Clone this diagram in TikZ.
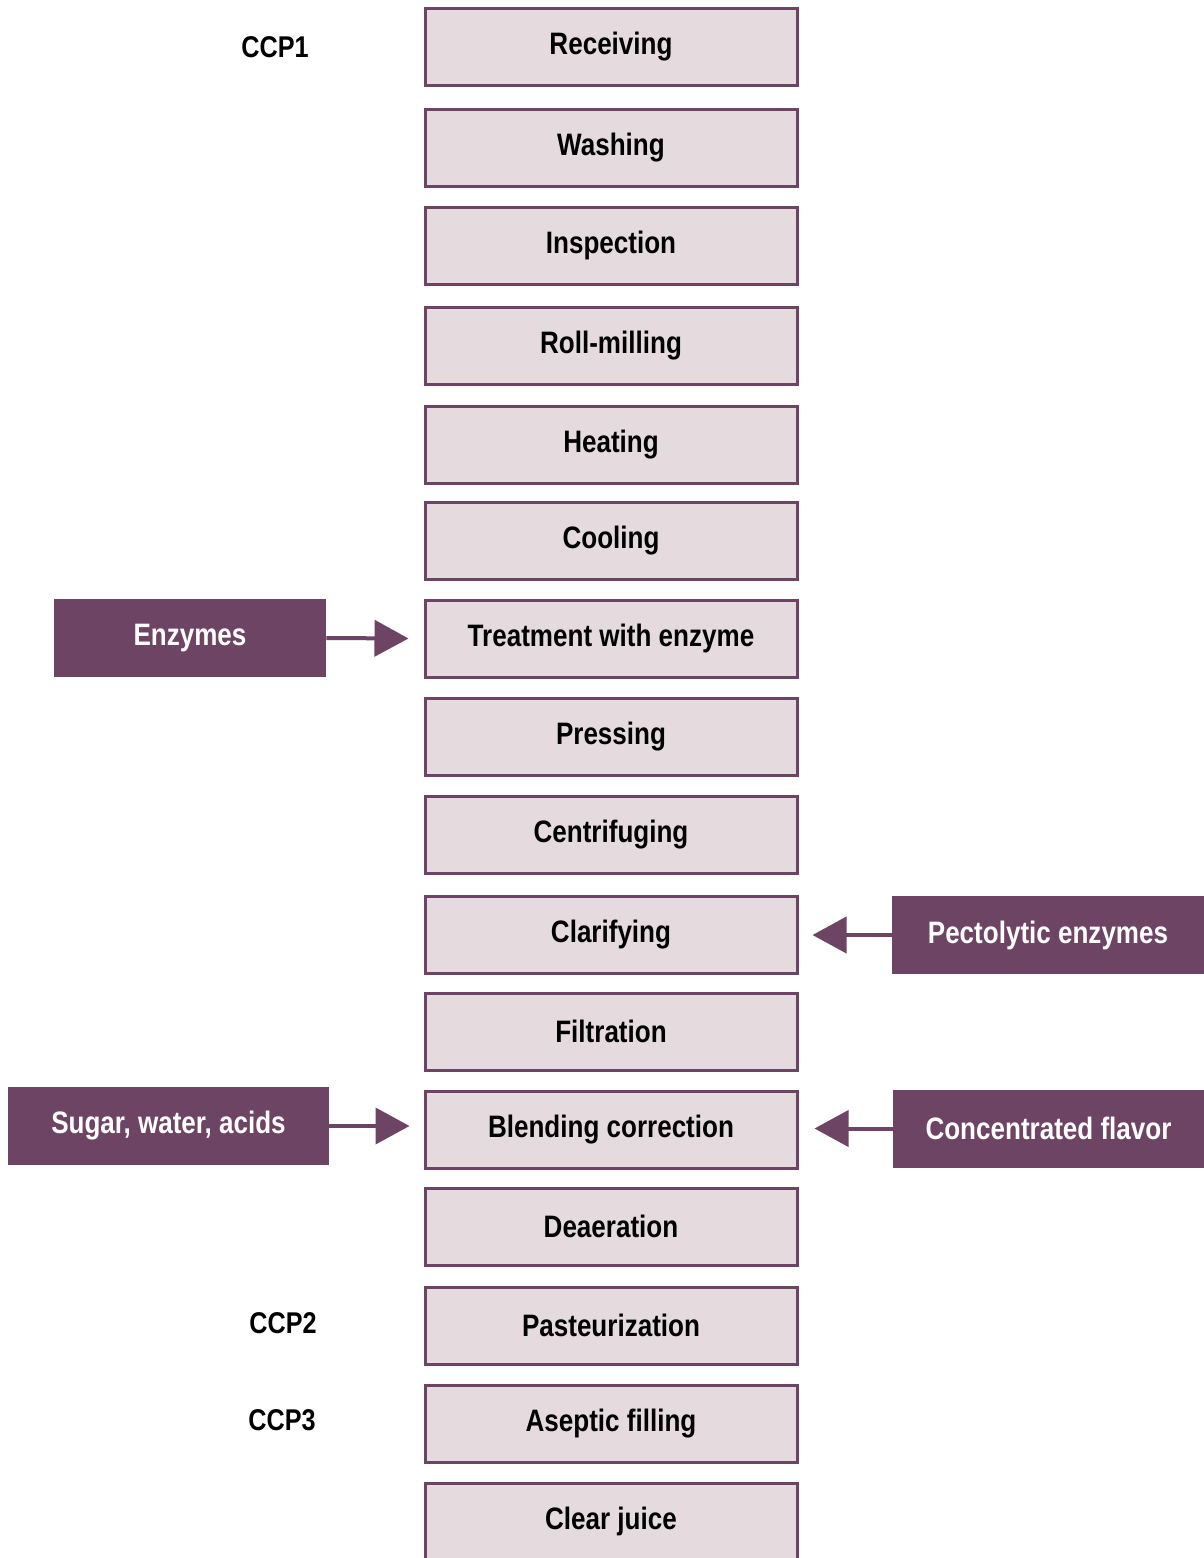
\documentclass[tikz,border=0pt]{standalone}
\usepackage{fontspec}
\setmainfont{Liberation Sans}[FakeStretch=0.84]
\usetikzlibrary{arrows.meta}
\definecolor{plum}{HTML}{6E4464}
\definecolor{stepfill}{HTML}{E5DADD}
\tikzset{
  stepbox/.style={draw=plum, line width=1.5pt, fill=stepfill, minimum width=186pt,
    minimum height=38.5pt, inner sep=0pt, font=\fontsize{15.5}{17}\selectfont\bfseries},
  inbox/.style={fill=plum, text=white, minimum height=39pt, inner sep=0pt,
    font=\fontsize{15.5}{17}\selectfont\bfseries},
  ccp/.style={font=\fontsize{15}{17}\selectfont\bfseries},
  feed/.style={draw=plum, line width=2pt, -{Triangle[length=17pt,width=18pt]}}
}
\begin{document}
\begin{tikzpicture}[x=0.5pt,y=-0.5pt]

\useasboundingbox (0,0) rectangle (1204,1558);

\node[stepbox] (recv) at (611,47) {Receiving};
\node[stepbox] (wash) at (611,148) {Washing};
\node[stepbox] (insp) at (611,245.5) {Inspection};
\node[stepbox] (mill) at (611,345.5) {Roll-milling};
\node[stepbox] (heat) at (611,444.5) {Heating};
\node[stepbox] (cool) at (611,540.5) {Cooling};
\node[stepbox] (treat) at (611,638.5) {Treatment with enzyme};
\node[stepbox] (press) at (611,736.5) {Pressing};
\node[stepbox] (centr) at (611,834.5) {Centrifuging};
\node[stepbox] (clar) at (611,934.5) {Clarifying};
\node[stepbox] (filt) at (611,1031.5) {Filtration};
\node[stepbox] (blend) at (611,1129.5) {Blending correction};
\node[stepbox] (deaer) at (611,1226.5) {Deaeration};
\node[stepbox] (past) at (611,1325.5) {Pasteurization};
\node[stepbox] (asep) at (611,1423.5) {Aseptic filling};
\node[stepbox] (juice) at (611,1521.5) {Clear juice};

\node[ccp] (ccp1) at (275,47) {CCP1};
\node[ccp] (ccp2) at (283,1323) {CCP2};
\node[ccp] (ccp3) at (282,1420) {CCP3};

\node[inbox, minimum width=136pt] (enz) at (190,638) {Enzymes};
\node[inbox, minimum width=160.5pt] (sugar) at (168.5,1126) {Sugar, water, acids};
\node[inbox, minimum width=156pt] (pect) at (1048,935) {Pectolytic enzymes};
\node[inbox, minimum width=155.5pt] (flav) at (1048.5,1128.5) {Concentrated flavor};

\draw[feed] (enz.east) -- ([xshift=-7.5pt]treat.west);
\draw[feed] (sugar.east) -- ([xshift=-7pt]blend.west|-sugar.east);
\draw[feed] (pect.west) -- ([xshift=7pt]clar.east|-pect.west);
\draw[feed] (flav.west) -- ([xshift=8pt]blend.east|-flav.west);

\end{tikzpicture}
\end{document}
